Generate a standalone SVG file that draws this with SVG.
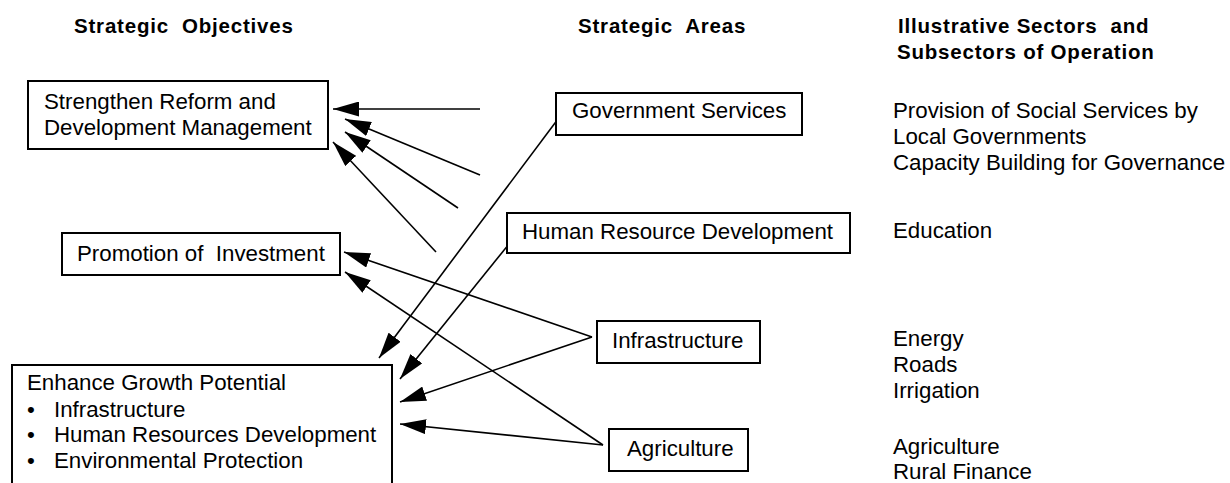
<svg xmlns="http://www.w3.org/2000/svg" width="1230" height="483" viewBox="0 0 1230 483">
<style>
text{font-family:"Liberation Sans",Arial,sans-serif;font-size:22.3px;fill:#000;white-space:pre}
.h{font-weight:bold;font-size:20.5px;letter-spacing:0.8px}
.box{fill:#fff;stroke:#000;stroke-width:2}
.c{stroke:#000;stroke-width:1.6;fill:none;marker-end:url(#ah)}
</style>
<defs>
<marker id="ah" viewBox="0 0 26 15" refX="26" refY="7.5" markerWidth="26" markerHeight="15" markerUnits="userSpaceOnUse" orient="auto">
<path d="M0,0 L26,7.5 L0,15 z" fill="#000"/>
</marker>
</defs>
<g id="headers">
<text class="h" x="74" y="33">Strategic  Objectives</text>
<text class="h" x="578" y="33">Strategic  Areas</text>
<text class="h" x="898" y="33">Illustrative Sectors  and</text>
<text class="h" x="897" y="59">Subsectors of Operation</text>
</g>
<g id="connectors">
<line class="c" x1="480" y1="109" x2="333" y2="109"/>
<line class="c" x1="480" y1="175" x2="345" y2="119"/>
<line class="c" x1="458" y1="208" x2="345" y2="132"/>
<line class="c" x1="436" y1="252" x2="333" y2="142"/>
<line class="c" x1="592" y1="337" x2="344" y2="252"/>
<line class="c" x1="603" y1="445" x2="345" y2="272"/>
<line class="c" x1="558" y1="119" x2="379" y2="358"/>
<line class="c" x1="513" y1="239" x2="400" y2="379"/>
<line class="c" x1="592" y1="337" x2="400" y2="402"/>
<line class="c" x1="603" y1="445" x2="400" y2="424"/>
</g>
<g id="strengthen">
<rect class="box" x="28" y="81" width="300" height="68"/>
<text x="44" y="109">Strengthen Reform and</text>
<text x="44" y="135">Development Management</text>
</g>
<g id="promotion">
<rect class="box" x="62" y="233" width="278" height="42"/>
<text x="77" y="261">Promotion of  Investment</text>
</g>
<g id="enhance">
<rect class="box" x="12" y="365" width="380" height="130"/>
<text x="27" y="390">Enhance Growth Potential</text>
<text x="27" y="417">•</text>
<text x="54" y="417">Infrastructure</text>
<text x="27" y="442">•</text>
<text x="54" y="442">Human Resources Development</text>
<text x="27" y="468">•</text>
<text x="54" y="468">Environmental Protection</text>
</g>
<g id="government">
<rect class="box" x="556" y="93" width="246" height="42"/>
<text x="572" y="118">Government Services</text>
</g>
<g id="hrd">
<rect class="box" x="507" y="213" width="343" height="40"/>
<text x="522" y="239">Human Resource Development</text>
</g>
<g id="infrastructure">
<rect class="box" x="597" y="321" width="163" height="42"/>
<text x="612" y="348">Infrastructure</text>
</g>
<g id="agriculture">
<rect class="box" x="609" y="429" width="139" height="42"/>
<text x="627" y="456">Agriculture</text>
</g>
<g id="sectors">
<text x="893" y="118">Provision of Social Services by</text>
<text x="893" y="144">Local Governments</text>
<text x="893" y="170">Capacity Building for Governance</text>
<text x="893" y="238">Education</text>
<text x="893" y="346">Energy</text>
<text x="893" y="372">Roads</text>
<text x="893" y="398">Irrigation</text>
<text x="893" y="454">Agriculture</text>
<text x="893" y="479">Rural Finance</text>
</g>
</svg>
